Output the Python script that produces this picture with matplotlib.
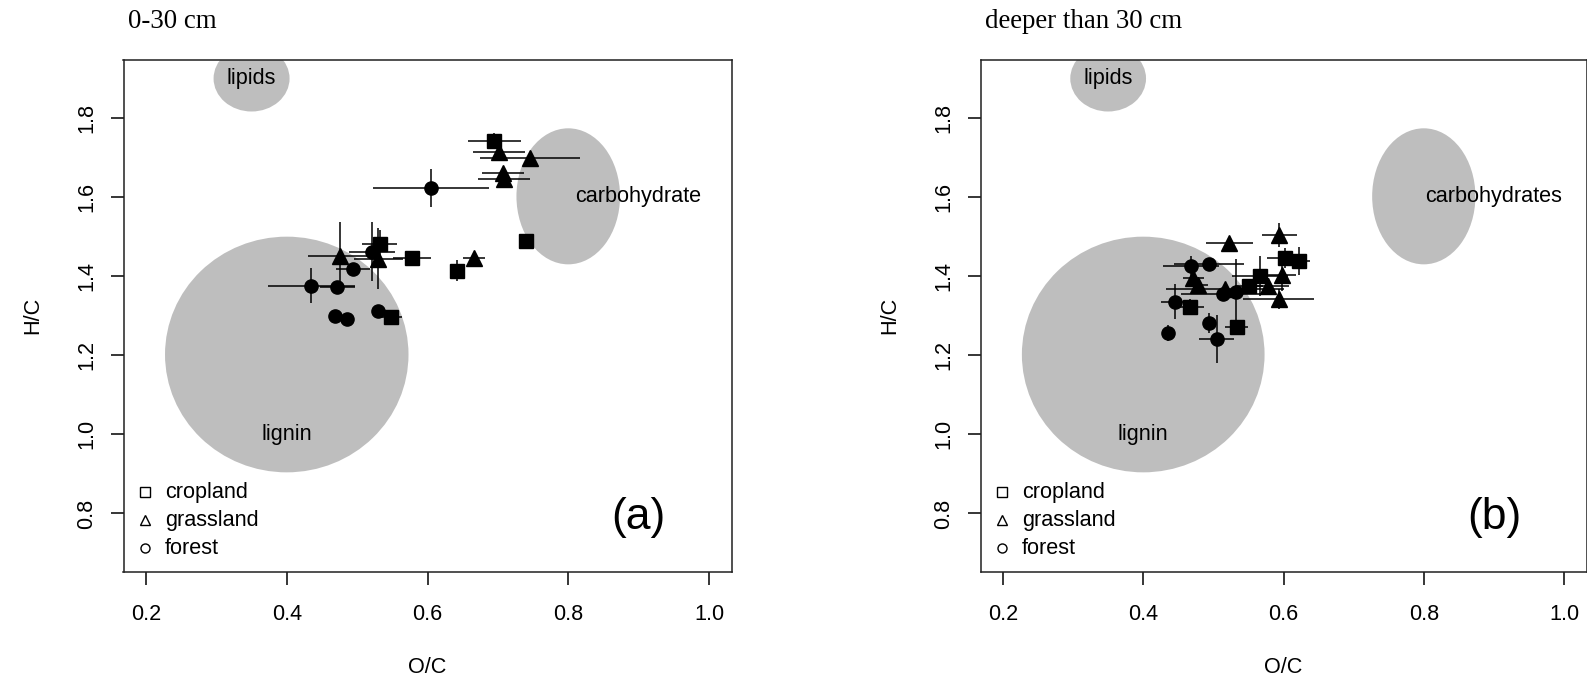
import matplotlib
matplotlib.use("Agg")
import matplotlib.pyplot as plt
from matplotlib.patches import Ellipse

# ---------------- data ----------------
panel_titles = ["0-30 cm", "deeper than 30 cm"]
panel_tags = ["(a)", "(b)"]
carb_labels = ["carbohydrate", "carbohydrates"]
legend_labels = ["cropland", "grassland", "forest"]
x_ticks = [0.2, 0.4, 0.6, 0.8, 1.0]
y_ticks = [0.8, 1.0, 1.2, 1.4, 1.6, 1.8]

# reference regions: (x centre, y centre, x radius, y radius)
lipids_region = (0.35, 1.90, 0.054, 0.0835)
lignin_region = (0.40, 1.202, 0.173, 0.298)
carb_region = (0.80, 1.602, 0.0736, 0.172)

# panel (a) 0-30 cm
a_crop_x = [0.695, 0.740, 0.578, 0.642, 0.532, 0.548]
a_crop_y = [1.743, 1.490, 1.447, 1.414, 1.481, 1.298]
a_crop_xerr = [0.038, 0.0, 0.027, 0.005, 0.025, 0.016]
a_crop_yerr = [0.020, 0.0, 0.008, 0.026, 0.035, 0.005]

a_grass_x = [0.701, 0.746, 0.707, 0.709, 0.666, 0.475, 0.530]
a_grass_y = [1.713, 1.699, 1.660, 1.645, 1.446, 1.452, 1.444]
a_grass_xerr = [0.037, 0.071, 0.030, 0.037, 0.015, 0.045, 0.035]
a_grass_yerr = [0.015, 0.012, 0.015, 0.020, 0.010, 0.085, 0.077]

a_forest_x = [0.605, 0.435, 0.472, 0.494, 0.521, 0.469, 0.485, 0.530]
a_forest_y = [1.623, 1.376, 1.372, 1.418, 1.462, 1.300, 1.291, 1.312]
a_forest_xerr = [0.082, 0.062, 0.025, 0.024, 0.033, 0.004, 0.004, 0.006]
a_forest_yerr = [0.047, 0.044, 0.012, 0.008, 0.075, 0.004, 0.004, 0.008]

# panel (b) deeper than 30 cm
b_crop_x = [0.602, 0.622, 0.567, 0.551, 0.466, 0.533]
b_crop_y = [1.446, 1.439, 1.400, 1.375, 1.323, 1.271]
b_crop_xerr = [0.025, 0.016, 0.040, 0.020, 0.020, 0.017]
b_crop_yerr = [0.025, 0.035, 0.050, 0.015, 0.020, 0.012]

b_grass_x = [0.594, 0.523, 0.598, 0.593, 0.578, 0.478, 0.471, 0.516]
b_grass_y = [1.505, 1.483, 1.403, 1.343, 1.376, 1.378, 1.395, 1.368]
b_grass_xerr = [0.025, 0.033, 0.020, 0.051, 0.030, 0.015, 0.015, 0.084]
b_grass_yerr = [0.030, 0.012, 0.040, 0.025, 0.020, 0.012, 0.012, 0.015]

b_forest_x = [0.468, 0.494, 0.445, 0.436, 0.494, 0.505, 0.514, 0.532]
b_forest_y = [1.425, 1.430, 1.336, 1.257, 1.281, 1.241, 1.355, 1.360]
b_forest_xerr = [0.040, 0.050, 0.020, 0.005, 0.005, 0.025, 0.060, 0.020]
b_forest_yerr = [0.025, 0.017, 0.045, 0.020, 0.025, 0.060, 0.012, 0.083]

panels = [
    [(a_crop_x, a_crop_y, a_crop_xerr, a_crop_yerr),
     (a_grass_x, a_grass_y, a_grass_xerr, a_grass_yerr),
     (a_forest_x, a_forest_y, a_forest_xerr, a_forest_yerr)],
    [(b_crop_x, b_crop_y, b_crop_xerr, b_crop_yerr),
     (b_grass_x, b_grass_y, b_grass_xerr, b_grass_yerr),
     (b_forest_x, b_forest_y, b_forest_xerr, b_forest_yerr)],
]

# ---------------- styling ----------------
SANS = ["Liberation Sans", "DejaVu Sans"]
SERIF = ["Liberation Serif", "DejaVu Serif"]
plt.rcParams["font.family"] = SANS
FS = 15.6
GREY = "#BEBEBE"
markers = ["s", "^", "o"]
msizes = [9.5, 11, 9.5]

W, H = 1587, 684
fig = plt.figure(figsize=(W / 100, H / 100), dpi=100)

axes_px = [(123.5, 608.0), (980.5, 606.0)]
ax_bottom_px, ax_top_px = 572.0, 59.5

for i, (left_px, width_px) in enumerate(axes_px):
    ax = fig.add_axes([left_px / W, (H - ax_bottom_px) / H, width_px / W,
                       (ax_bottom_px - ax_top_px) / H])
    ax.set_xlim(0.168, 1.032)
    ax.set_ylim(0.652, 1.948)

    for (cx, cy, rx, ry) in (lipids_region, lignin_region, carb_region):
        ax.add_patch(Ellipse((cx, cy), 2 * rx, 2 * ry, facecolor=GREY,
                             edgecolor="none", zorder=1))
    ax.text(lipids_region[0], lipids_region[1], "lipids", ha="center",
            va="center", fontsize=FS, zorder=2)
    ax.text(lignin_region[0], 1.0, "lignin", ha="center", va="center",
            fontsize=FS, zorder=2)
    ax.text(0.9, carb_region[1], carb_labels[i], ha="center", va="center",
            fontsize=FS, zorder=2)

    for (xs, ys, xe, ye), m, ms in zip(panels[i], markers, msizes):
        ax.errorbar(xs, ys, xerr=xe, yerr=ye, fmt="none", ecolor="black",
                    elinewidth=1.1, capsize=0, zorder=3)
        ax.plot(xs, ys, linestyle="none", marker=m, markersize=ms,
                color="black", zorder=4)

    # legend (open symbols)
    leg_rows = [0.156, 0.1005, 0.0468]
    for lab, m, yy in zip(legend_labels, markers, leg_rows):
        ax.plot([0.0354], [yy], transform=ax.transAxes, marker=m,
                markersize=6.5, mfc="none", mec="black", mew=1.0,
                linestyle="none", clip_on=False)
        ax.text(0.068, yy, lab, transform=ax.transAxes, ha="left",
                va="center", fontsize=FS)

    ax.text(0.9, 0.79, panel_tags[i], ha="center", va="center", fontsize=32)

    ax.text(0.0075, 1.075, panel_titles[i], transform=ax.transAxes,
            ha="left", va="center", fontsize=19.4, family=SERIF)

    ax.set_xticks(x_ticks)
    ax.set_xticklabels([f"{v:.1f}" for v in x_ticks])
    ax.set_yticks(y_ticks)
    ax.set_yticklabels([f"{v:.1f}" for v in y_ticks], rotation=90,
                       va="center")
    ax.tick_params(axis="both", direction="out", length=9.1, width=1.1,
                   labelsize=FS, color="black")
    ax.tick_params(axis="x", pad=14.0)
    ax.tick_params(axis="y", pad=10.0)
    for sp in ax.spines.values():
        sp.set_linewidth(1.1)
        sp.set_color("#202020")

    ax.text(0.5, -0.187, "O/C", transform=ax.transAxes, ha="center",
            va="center", fontsize=FS)
    ax.text(-0.149, 0.5, "H/C", transform=ax.transAxes, ha="center",
            va="center", rotation=90, fontsize=FS)

fig.savefig("out.png", dpi=100)
